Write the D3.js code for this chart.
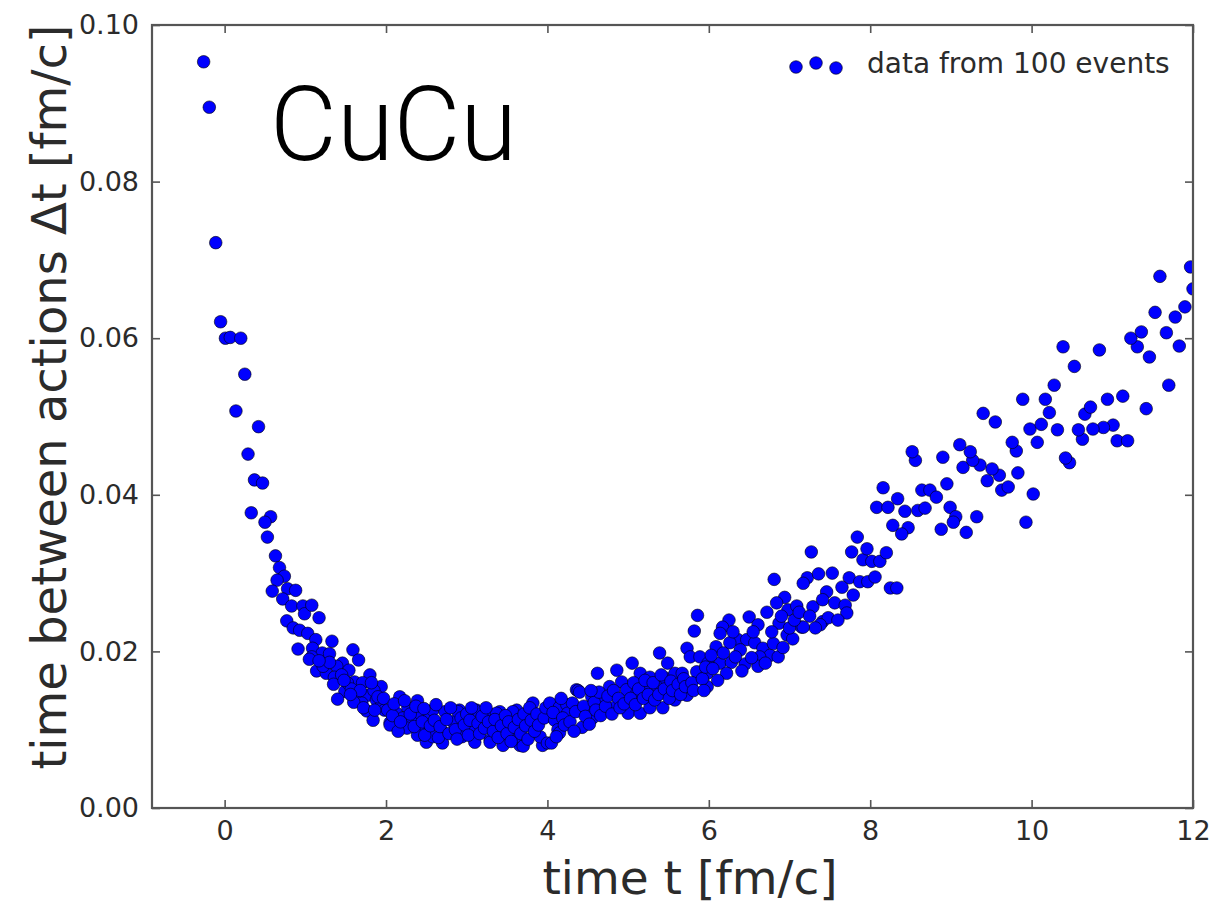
<!DOCTYPE html>
<html>
<head>
<meta charset="utf-8">
<script src="https://cdn.jsdelivr.net/npm/d3@7"></script>
<style>
  html, body { margin: 0; padding: 0; background: #fff; }
  svg { display: block; }
</style>
</head>
<body>
<svg id="chart" width="1217" height="904"></svg>
<script>
// ---------------- DATA ----------------
const xTicks = [0, 2, 4, 6, 8, 10, 12];
const yTicks = [0.00, 0.02, 0.04, 0.06, 0.08, 0.10];
const xDomain = [-0.9, 12];
const yDomain = [0, 0.1];
const seriesLabel = "data from 100 events";
const systemLabel = "CuCu";
const xLabel = "time t [fm/c]";
const yLabel = "time between actions \u0394t [fm/c]";

// [time t, Δt]
const earlyPoints = [
  [-0.26,0.0953],[-0.19,0.0895],[-0.11,0.0722],[-0.05,0.0621],[0.01,0.0600],[0.07,0.0601],[0.20,0.0600],
  [0.25,0.0554],[0.14,0.0507],[0.42,0.0487],[0.29,0.0452],[0.37,0.0419],[0.47,0.0415],[0.33,0.0377],
  [0.57,0.0372],[0.50,0.0365],[0.53,0.0346],[0.63,0.0322],[0.68,0.0307],[0.74,0.0296],[0.65,0.0291],
  [0.59,0.0277],[0.78,0.0280],[0.88,0.0278],[0.72,0.0267],[0.83,0.0258],[0.97,0.0258],[0.99,0.0248],
  [0.77,0.0239],[0.85,0.0230],[0.93,0.0227],[0.91,0.0203]
];
const decayPoints = [
  [1.08,0.0259],[1.17,0.0243],[1.03,0.0223],[1.13,0.0215],[1.33,0.0213],[1.09,0.0204],[1.21,0.0198],
  [1.08,0.0193],[1.30,0.0197],[1.59,0.0202],[1.66,0.0189],[1.46,0.0185],[1.39,0.0181],[1.14,0.0175],
  [1.26,0.0172],[1.36,0.0167],[1.54,0.0176],[1.80,0.0170],[1.61,0.0161],[1.71,0.0160],[1.94,0.0155],
  [1.49,0.0149],[1.40,0.0139],[1.63,0.0143],[1.77,0.0144],[1.88,0.0138],[1.70,0.0134],[1.94,0.0130],
  [1.76,0.0124],[1.84,0.0112],[1.22,0.0181],[1.30,0.0186],[1.45,0.0170],[1.52,0.0160],[1.57,0.0152],
  [1.68,0.0150],[1.85,0.0150],[1.90,0.0142],[1.98,0.0125],[1.60,0.0135],[1.72,0.0128],[1.86,0.0125],
  [1.05,0.0190],[1.17,0.0188],[1.35,0.0158],[1.48,0.0163],[1.56,0.0145],[1.82,0.0160],[1.97,0.0140]
];
const minimumPoints = [
  [2.05,0.0109],[2.13,0.0121],[2.27,0.0128],[2.21,0.0115],[2.33,0.0112],[2.42,0.0121],[2.54,0.0116],
  [2.58,0.0125],[2.73,0.0123],[2.52,0.0100],[2.70,0.0097],[2.42,0.0096],[2.83,0.0110],[2.91,0.0125],
  [3.08,0.0100],[3.12,0.0125],[3.29,0.0119],[3.41,0.0123],[3.45,0.0080],[3.29,0.0087],[3.66,0.0080],
  [3.62,0.0125],[3.82,0.0134],[3.94,0.0080],[2.17,0.0142],[2.39,0.0137],[2.05,0.0106],[2.26,0.0102],
  [2.39,0.0093],[2.50,0.0084],[2.58,0.0091],[2.70,0.0083],[2.89,0.0123],[3.10,0.0125],[2.94,0.0091],
  [3.10,0.0084],[3.29,0.0084],[3.62,0.0091],[3.70,0.0079],[3.91,0.0091],[3.37,0.0121],[3.57,0.0123],
  [2.02,0.0125],[2.08,0.0118],[2.10,0.0133],[2.15,0.0098],[2.18,0.0110],[2.23,0.0137],[2.30,0.0120],
  [2.35,0.0104],[2.37,0.0130],[2.45,0.0110],[2.47,0.0127],[2.48,0.0093],[2.55,0.0105],[2.60,0.0112],
  [2.62,0.0132],[2.65,0.0090],[2.67,0.0104],[2.75,0.0113],[2.78,0.0095],[2.80,0.0128],[2.86,0.0100],
  [2.88,0.0088],[2.93,0.0115],[2.97,0.0106],[3.00,0.0120],[3.02,0.0093],[3.04,0.0112],[3.06,0.0128],
  [3.14,0.0108],[3.16,0.0095],[3.19,0.0117],[3.22,0.0102],[3.24,0.0128],[3.27,0.0110],[3.33,0.0098],
  [3.35,0.0113],[3.39,0.0090],[3.43,0.0105],[3.48,0.0118],[3.50,0.0095],[3.52,0.0110],[3.55,0.0085],
  [3.59,0.0103],[3.64,0.0113],[3.67,0.0095],[3.71,0.0120],[3.73,0.0105],[3.76,0.0088],[3.78,0.0128],
  [3.80,0.0112],[3.84,0.0098],[3.87,0.0120],[3.89,0.0106],[3.96,0.0115],[3.98,0.0128]
];
const risePoints = [
  [4.00,0.0083],[4.03,0.0134],[4.05,0.0083],[4.09,0.0112],[4.13,0.0100],[4.15,0.0129],[4.15,0.0096],
  [4.24,0.0132],[4.25,0.0121],[4.31,0.0134],[4.36,0.0151],[4.38,0.0150],[4.40,0.0148],[4.43,0.0103],
  [4.49,0.0125],[4.55,0.0142],[4.56,0.0115],[4.69,0.0138],[4.77,0.0155],[4.84,0.0129],[4.92,0.0161],
  [4.98,0.0151],[5.00,0.0121],[5.11,0.0147],[5.15,0.0121],[5.23,0.0155],[5.27,0.0128],[5.36,0.0155],
  [5.43,0.0128],[5.58,0.0138],[5.73,0.0144],[4.62,0.0172],[4.86,0.0176],[5.05,0.0185],[5.15,0.0172],
  [5.27,0.0167],[5.46,0.0166],[5.58,0.0172],[5.39,0.0198],[5.49,0.0185],[5.67,0.0172],[5.85,0.0174],
  [5.98,0.0172],[5.98,0.0155],[5.73,0.0204],[5.77,0.0193],[5.89,0.0193],[5.99,0.0185],[5.86,0.0246],
  [5.82,0.0226],[4.07,0.0122],[4.11,0.0091],[4.19,0.0115],[4.21,0.0106],[4.28,0.0110],[4.33,0.0098],
  [4.35,0.0123],[4.45,0.0130],[4.47,0.0117],[4.52,0.0107],[4.58,0.0135],[4.60,0.0125],[4.64,0.0148],
  [4.66,0.0118],[4.72,0.0130],[4.75,0.0143],[4.80,0.0120],[4.82,0.0150],[4.88,0.0140],[4.90,0.0128],
  [4.95,0.0133],[5.03,0.0140],[5.07,0.0160],[5.09,0.0132],[5.13,0.0152],[5.19,0.0140],[5.21,0.0163],
  [5.25,0.0145],[5.31,0.0160],[5.33,0.0138],[5.38,0.0145],[5.41,0.0170],[5.45,0.0152],[5.51,0.0140],
  [5.53,0.0162],[5.55,0.0150],[5.62,0.0158],[5.65,0.0145],[5.69,0.0165],[5.71,0.0155],[5.79,0.0160],
  [5.81,0.0150],[5.92,0.0165],[5.94,0.0150],[5.96,0.0180],[4.17,0.0140],[4.54,0.0150]
];
const growthPoints = [
  [6.25,0.0240],[6.17,0.0231],[6.14,0.0223],[6.36,0.0215],[6.47,0.0215],[6.57,0.0211],[6.26,0.0211],
  [6.09,0.0206],[6.67,0.0204],[6.76,0.0195],[6.86,0.0193],[6.63,0.0193],[6.39,0.0202],[6.14,0.0185],
  [6.28,0.0186],[6.45,0.0184],[6.61,0.0181],[6.22,0.0172],[6.11,0.0163],[6.50,0.0244],[6.61,0.0234],
  [6.87,0.0236],[6.97,0.0221],[7.04,0.0216],[6.72,0.0250],[6.98,0.0253],[7.15,0.0231],[7.41,0.0238],
  [6.94,0.0269],[6.84,0.0262],[7.09,0.0258],[6.81,0.0292],[7.27,0.0327],[7.22,0.0294],[7.17,0.0287],
  [7.36,0.0299],[7.53,0.0300],[7.46,0.0276],[7.29,0.0257],[7.41,0.0266],[7.56,0.0262],[7.69,0.0259],
  [7.71,0.0249],[7.48,0.0243],[7.60,0.0240],[7.38,0.0234],[7.32,0.0230],[7.17,0.0231],[7.74,0.0294],
  [7.65,0.0282],[7.79,0.0272],[7.87,0.0289],[7.97,0.0289],[7.91,0.0317],[7.77,0.0327],[7.96,0.0331],
  [7.84,0.0346],[6.03,0.0195],[6.05,0.0178],[6.18,0.0198],[6.33,0.0193],[6.41,0.0175],[6.53,0.0192],
  [6.70,0.0185],[6.80,0.0210],[6.92,0.0205],[7.00,0.0230],[7.06,0.0240],[7.12,0.0250],[7.25,0.0245],
  [6.30,0.0225],[6.55,0.0225],[6.78,0.0225],[6.90,0.0245]
];
const latePoints = [
  [8.06,0.0295],[8.25,0.0281],[8.33,0.0281],[8.02,0.0315],[8.12,0.0315],[8.20,0.0326],[8.08,0.0384],
  [8.22,0.0384],[8.16,0.0409],[8.34,0.0395],[8.43,0.0379],[8.59,0.0380],[8.68,0.0383],[8.99,0.0384],
  [9.06,0.0372],[9.03,0.0365],[9.32,0.0372],[9.93,0.0365],[8.28,0.0361],[8.47,0.0358],[8.39,0.0350],
  [8.88,0.0356],[9.19,0.0352],[8.64,0.0406],[8.74,0.0406],[8.82,0.0397],[8.95,0.0414],[9.63,0.0406],
  [9.71,0.0410],[10.02,0.0401],[9.45,0.0418],[9.60,0.0425],[9.83,0.0428],[9.51,0.0433],[9.36,0.0438],
  [9.15,0.0435],[10.47,0.0441],[10.42,0.0447],[9.27,0.0444],[8.56,0.0444],[8.90,0.0448],[8.52,0.0455],
  [9.24,0.0455],[9.81,0.0456],[9.11,0.0464],[10.07,0.0467],[9.76,0.0467],[10.63,0.0471],[11.06,0.0469],
  [11.19,0.0469],[11.01,0.0489],[10.89,0.0486],[10.76,0.0484],[10.58,0.0483],[10.32,0.0483],[9.98,0.0484],
  [10.12,0.0490],[9.55,0.0493],[10.66,0.0503],[10.22,0.0505],[9.40,0.0504],[11.42,0.0510],[10.73,0.0512],
  [11.13,0.0526],[10.94,0.0522],[10.17,0.0522],[9.89,0.0522],[10.28,0.0540],[11.70,0.0540],[10.53,0.0564],
  [10.84,0.0585],[10.39,0.0589],[11.46,0.0576],[11.83,0.0590],[11.31,0.0589],[11.67,0.0607],[11.23,0.0600],
  [11.36,0.0608],[11.78,0.0627],[11.53,0.0633],[11.90,0.0640],[12.00,0.0663],[11.59,0.0679],[11.97,0.0691]
];
const legendOffsets = [[-20, 3], [0, -1], [20, 4]]; // 3 legend sample points (pixels around centre)

// ---------------- LAYOUT ----------------
const W = 1217, H = 904;
const plot = { left: 152, right: 1193, top: 25, bottom: 808 };
const svg = d3.select("#chart");

const x = d3.scaleLinear().domain(xDomain).range([plot.left, plot.right]);
const y = d3.scaleLinear().domain(yDomain).range([plot.bottom, plot.top]);

const tickFont = "'DejaVu Sans', sans-serif";
const textColor = "#2b2b2b";
const frameColor = "#555";

svg.append("defs").append("clipPath").attr("id", "clip")
  .append("rect").attr("x", plot.left).attr("y", plot.top)
  .attr("width", plot.right - plot.left).attr("height", plot.bottom - plot.top);

// points
const allPoints = [].concat(earlyPoints, decayPoints, minimumPoints, risePoints, growthPoints, latePoints);
svg.append("g").attr("clip-path", "url(#clip)")
  .selectAll("circle").data(allPoints).join("circle")
  .attr("cx", d => x(d[0])).attr("cy", d => y(d[1]))
  .attr("r", 6.3)
  .attr("fill", "#0000ff")
  .attr("stroke", "#000")
  .attr("stroke-opacity", 0.75)
  .attr("stroke-width", 0.8);

// axes
function styleAxis(g) {
  g.select(".domain").remove();
  g.selectAll(".tick line").attr("stroke", frameColor).attr("stroke-width", 1.6);
  g.selectAll(".tick text").attr("fill", textColor)
    .style("font-family", tickFont).style("font-size", "27px");
}
svg.append("g").attr("transform", `translate(0,${plot.bottom})`)
  .call(d3.axisBottom(x).tickValues(xTicks).tickFormat(d3.format("d")).tickSize(-8).tickPadding(13))
  .call(styleAxis);
svg.append("g").attr("transform", `translate(0,${plot.top})`)
  .call(d3.axisTop(x).tickValues(xTicks).tickFormat("").tickSize(-8))
  .call(styleAxis);
svg.append("g").attr("transform", `translate(${plot.left},0)`)
  .call(d3.axisLeft(y).tickValues(yTicks).tickFormat(d3.format(".2f")).tickSize(-8).tickPadding(13))
  .call(styleAxis);
svg.append("g").attr("transform", `translate(${plot.right},0)`)
  .call(d3.axisRight(y).tickValues(yTicks).tickFormat("").tickSize(-8))
  .call(styleAxis);

// frame
svg.append("rect")
  .attr("x", plot.left).attr("y", plot.top)
  .attr("width", plot.right - plot.left).attr("height", plot.bottom - plot.top)
  .attr("fill", "none").attr("stroke", frameColor).attr("stroke-width", 2.2);

// axis labels
svg.append("text")
  .attr("x", 690).attr("y", 894)
  .attr("text-anchor", "middle")
  .attr("fill", textColor)
  .style("font-family", tickFont).style("font-size", "47px")
  .text(xLabel);
svg.append("text")
  .attr("transform", "translate(66,397) rotate(-90)")
  .attr("text-anchor", "middle")
  .attr("fill", textColor)
  .style("font-family", tickFont).style("font-size", "48px")
  .text(yLabel);

// system label
svg.append("text")
  .attr("x", 270).attr("y", 160)
  .attr("fill", "#000")
  .style("font-family", "Roboto, 'Liberation Sans', sans-serif")
  .style("font-weight", 300)
  .style("font-size", "103px")
  .text(systemLabel);

// legend
const legend = svg.append("g").attr("transform", "translate(816,64)");
legend.selectAll("circle").data(legendOffsets).join("circle")
  .attr("cx", d => d[0]).attr("cy", d => d[1])
  .attr("r", 6.3).attr("fill", "#0000ff")
  .attr("stroke", "#000").attr("stroke-opacity", 0.75).attr("stroke-width", 0.8);
legend.append("text")
  .attr("x", 51).attr("y", 9)
  .attr("fill", textColor)
  .style("font-family", tickFont).style("font-size", "28px")
  .text(seriesLabel);
</script>
</body>
</html>
